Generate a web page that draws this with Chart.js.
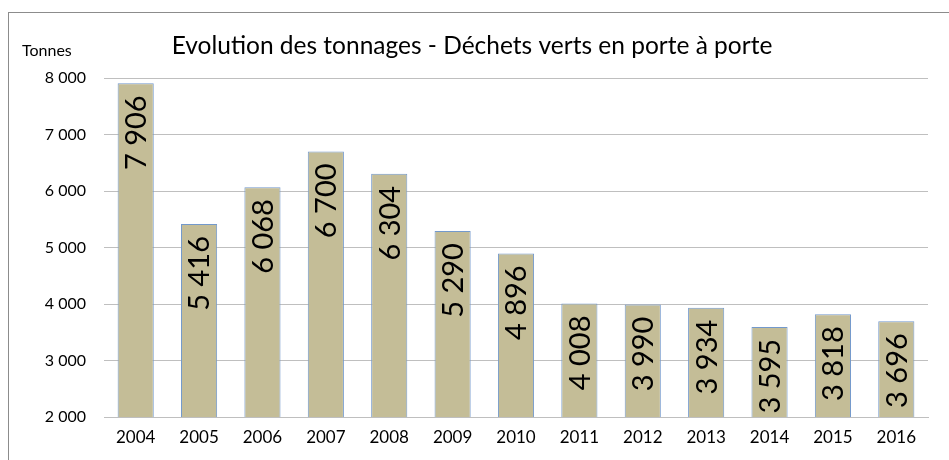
<!DOCTYPE html>
<html>
<head>
<meta charset="utf-8">
<script src="https://cdn.jsdelivr.net/npm/chart.js@4"></script>
<style>
  html, body { margin: 0; padding: 0; background: #fff; }
  #wrap { position: relative; width: 949px; height: 460px; overflow: hidden; }
  #frame { position: absolute; left: 8px; top: 12px; width: 1000px; height: 500px; border: 1px solid #8c8c8c; }
  canvas { position: absolute; left: 0; top: 0; }
</style>
</head>
<body>
<div id="wrap">
  <div id="frame"></div>
  <canvas id="chart" width="949" height="460"></canvas>
</div>
<script>
const years = ["2004", "2005", "2006", "2007", "2008", "2009", "2010", "2011", "2012", "2013", "2014", "2015", "2016"];
const tonnages = [7906, 5416, 6068, 6700, 6304, 5290, 4896, 4008, 3990, 3934, 3595, 3818, 3696];
const yTicks = [2000, 3000, 4000, 5000, 6000, 7000, 8000];
const chartTitle = "Evolution des tonnages - Déchets verts en porte à porte";
const yUnit = "Tonnes";

const FONT = "Lato, 'Open Sans', sans-serif";

function fmt(v) {
    return String(v).replace(/\B(?=(\d{3})+(?!\d))/g, " ");
}

// title, unit label and rotated values inside the bars
const labelsPlugin = {
    id: "labels",
    afterDatasetsDraw(chart) {
        const ctx = chart.ctx;
        const meta = chart.getDatasetMeta(0);
        ctx.save();
        ctx.fillStyle = "#000";
        ctx.font = "29px " + FONT;
        ctx.textAlign = "right";
        ctx.textBaseline = "middle";
        meta.data.forEach((bar, i) => {
            ctx.save();
            ctx.translate(bar.x, bar.y + 12);
            ctx.rotate(-Math.PI / 2);
            ctx.fillText(fmt(tonnages[i]), 0, 1);
            ctx.restore();
        });
        ctx.restore();
    },
    afterDraw(chart) {
        const ctx = chart.ctx;
        ctx.save();
        ctx.fillStyle = "#000";
        ctx.textBaseline = "middle";
        ctx.textAlign = "center";
        ctx.font = "24.5px " + FONT;
        ctx.fillText(chartTitle, 472, 46);
        ctx.textAlign = "left";
        ctx.font = "16px " + FONT;
        ctx.fillText(yUnit, 22, 51);
        ctx.restore();
    }
};

new Chart(document.getElementById("chart").getContext("2d"), {
    type: "bar",
    data: {
        labels: years,
        datasets: [{
            data: tonnages,
            backgroundColor: "#c4bd97",
            borderColor: "#7399cc",
            borderWidth: 1,
            barPercentage: 0.57,
            categoryPercentage: 1
        }]
    },
    options: {
        responsive: false,
        animation: false,
        events: [],
        layout: { padding: { top: 78, right: 21, left: 0, bottom: 0 } },
        plugins: {
            legend: { display: false },
            title: { display: false },
            tooltip: { enabled: false }
        },
        scales: {
            x: {
                grid: { display: false, drawTicks: false },
                border: { color: "#bfbfbf" },
                ticks: { color: "#000", font: { family: FONT, size: 17 }, padding: 10, maxRotation: 0 },
                afterFit(scale) { scale.height = 43; }
            },
            y: {
                min: 2000,
                max: 8000,
                afterBuildTicks(scale) { scale.ticks = yTicks.map(v => ({ value: v })); },
                grid: { color: "#bfbfbf", drawTicks: false },
                border: { display: false },
                ticks: {
                    color: "#000",
                    font: { family: FONT, size: 16 },
                    padding: 18,
                    callback: v => fmt(v)
                },
                afterFit(scale) { scale.width = 104; }
            }
        }
    },
    plugins: [labelsPlugin]
});
</script>
</body>
</html>
